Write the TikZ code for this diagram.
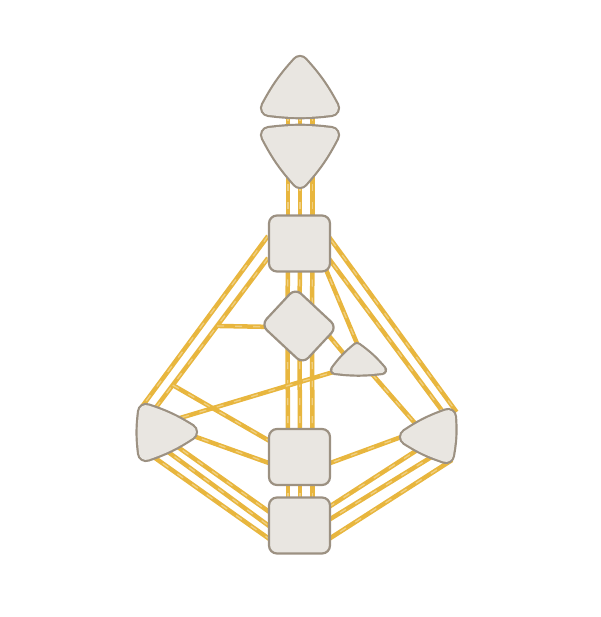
\documentclass[tikz,border=0pt]{standalone}
\usepackage{tikz}
\definecolor{centrefill}{HTML}{E9E6E1}
\definecolor{centreline}{HTML}{9C9182}
\definecolor{gold}{HTML}{E8B63E}
\usetikzlibrary{
  calc,
  backgrounds
}
\tikzset{
  every picture/.style={line cap=round, line join=round},
  centre/.style={
    draw=centreline,
    fill=centrefill,
    line width=2.2pt,
    rounded corners=8pt
  },
  box/.style={centre, minimum width=61pt, minimum height=56pt, inner sep=0pt},
  channel/.style={
    draw=gold,
    line width=4.5pt,
    postaction={draw=white, draw opacity=0.35, line width=1.3pt, dash pattern=on 7pt off 11pt}
  },
  bulge/.style={bend left=7}
}
% rounded triangle: rim width, core width, three corners
\newcommand{\centreshape}[5]{%
  \draw[centreline, line width=#1pt, line join=round] #3 to[bulge] #4 to[bulge] #5 to[bulge] cycle;
  \filldraw[centrefill, line width=#2pt, line join=round] #3 to[bulge] #4 to[bulge] #5 to[bulge] cycle;
}

\begin{document}
\begin{tikzpicture}[x=1pt, y=-1pt]
  \useasboundingbox (0,0) rectangle (600,617);

  % Triangular centres
  \centreshape{18.2}{13.8}{(300,64)}{(331,108)}{(269,108)}
  \coordinate (head) at (299.5,96);
  \centreshape{18.2}{13.8}{(331,135)}{(300,180)}{(269,135)}
  \coordinate (ajna) at (299.5,148);
  \centreshape{10.2}{5.8}{(357,347)}{(382,370)}{(335,370)}
  \coordinate (heart) at (358,366);
  \centreshape{18.2}{13.8}{(146,412)}{(189,432)}{(146,453)}
  \coordinate (spleen) at (160,432);
  \centreshape{18.2}{13.8}{(448,417)}{(446,455)}{(408,437)}
  \coordinate (solar) at (438,437);

  % Square centres and the diamond
  \node[box] (throat) at (299.5,243.5) {};
  \node[centre, minimum width=57pt, minimum height=50pt, inner sep=0pt, rotate=-43] (g) at (299,326) {};
  \node[box] (sacral) at (299.5,457) {};
  \node[box] (root) at (299.5,525.5) {};

  \begin{scope}[on background layer]
    % Vertical channels
    \foreach \a/\b in {head/ajna, ajna/throat, throat/g, g/sacral, sacral/root}
      \foreach \dx in {-11.5, 0.5, 13}
        \draw[channel] ($(\a)+(\dx,0)$) -- ($(\b)+(\dx,0)$);

    % Left side
    \coordinate (gate20) at ($(throat)+(-31.5,14.5)$);
    \coordinate (gate57) at ($(spleen)+(-6,-22)$);
    \draw[channel] ($(throat)+(-31.5,-7.5)$) -- ($(spleen)+(-19,-24)$);
    \draw[channel] (gate20) -- (gate57);
    \draw[channel] ($(gate20)!0.447!(gate57)$) -- ($(g)+(-24,1)$);
    \draw[channel] ($(gate20)!0.836!(gate57)$) -- ($(sacral)+(-19.5,-10)$);
    \draw[channel] ($(spleen)+(5,-9.5)$) -- ($(heart)+(-13,2.5)$);
    \draw[channel] ($(spleen)+(25,1)$) -- ($(sacral)+(-19.5,10)$);
    \draw[channel] ($(spleen)+(8,8)$) -- ($(root)+(-19.5,-6)$);
    \draw[channel] ($(spleen)+(0,14)$) -- ($(root)+(-19.5,8.5)$);
    \draw[channel] ($(spleen)+(-12,21)$) -- ($(root)+(-19.5,21)$);

    % Right side
    \draw[channel] ($(throat)+(21.5,-17.5)$) -- ($(solar)+(18.5,-25)$);
    \draw[channel] ($(throat)+(23,6.5)$) -- ($(solar)+(8,-21)$);
    \draw[channel] ($(throat)+(23.3,18.5)$) -- ($(heart)+(2.6,-14)$);
    \draw[channel] ($(g)+(23,1.5)$) -- ($(heart)+(-6,-2.5)$);
    \draw[channel] ($(heart)+(14,8)$) -- ($(solar)+(-18,-8)$);
    \draw[channel] ($(solar)+(-30,-2.5)$) -- ($(sacral)+(18.5,10.5)$);
    \draw[channel] ($(solar)+(-13,8)$) -- ($(root)+(18.5,-11.5)$);
    \draw[channel] ($(solar)+(0,16)$) -- ($(root)+(18.5,1)$);
    \draw[channel] ($(solar)+(14,23)$) -- ($(root)+(18.5,20.5)$);
  \end{scope}
\end{tikzpicture}
\end{document}
